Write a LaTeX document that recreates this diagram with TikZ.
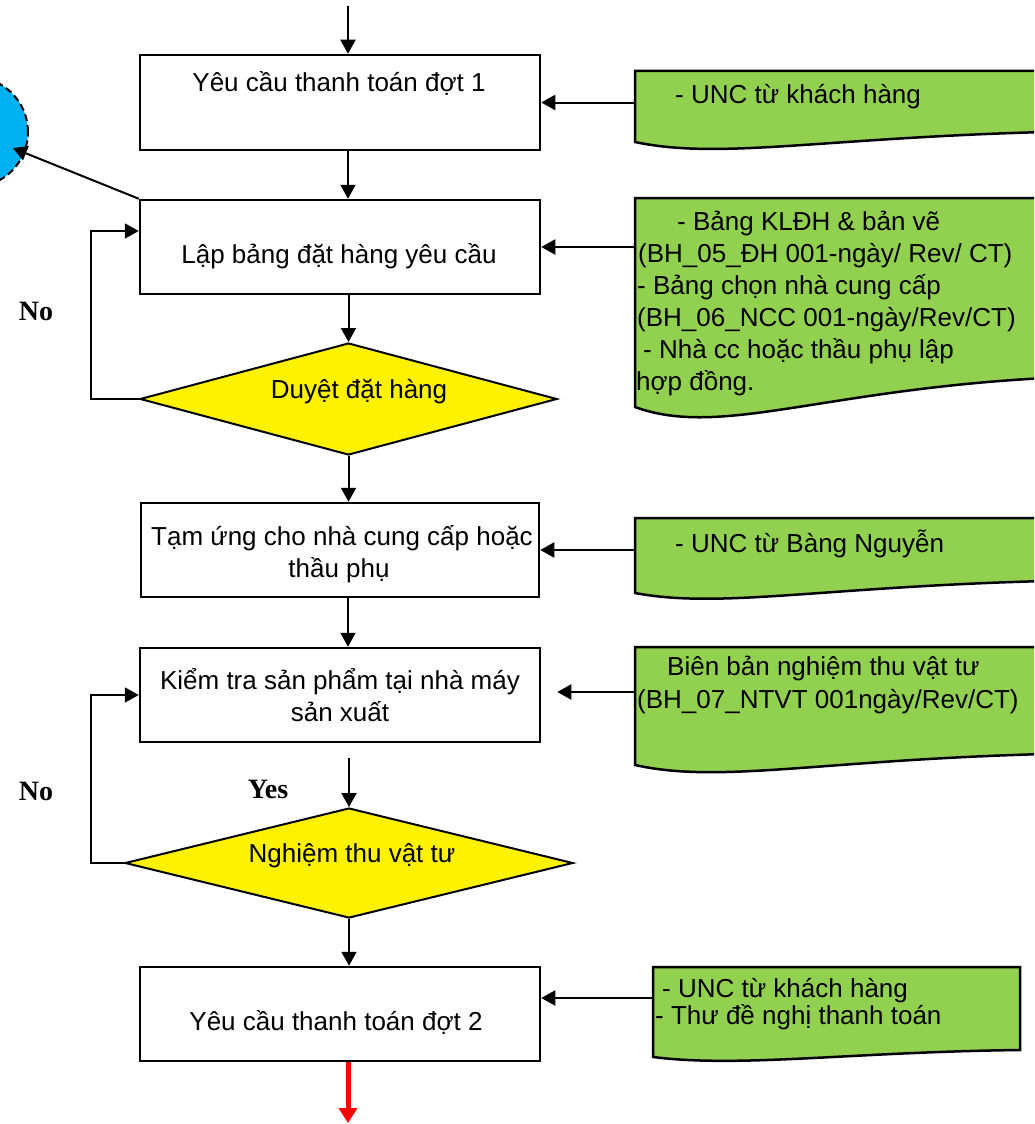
\documentclass[tikz,border=0pt]{standalone}
\usepackage{fontspec}
\setmainfont{Liberation Sans}
\newfontfamily\tnr{Liberation Serif}
\usetikzlibrary{arrows.meta,shapes.geometric}
\definecolor{docgreen}{RGB}{146,208,80}
\definecolor{circblue}{RGB}{0,176,240}
\begin{document}
\begin{tikzpicture}[x=1pt,y=1pt,
  every node/.style={font=\fontsize{26}{32}\selectfont},
  box/.style={draw, line width=2.5pt, minimum width=400pt, inner sep=0},
  dec/.style={diamond, draw, fill=yellow, line width=2pt, inner sep=0},
  arr/.style={line width=2pt, -{Triangle[length=14pt,width=15pt]}},
  redarr/.style={draw=red, line width=5pt, -{Triangle[length=15pt,width=18pt]}, red},
  doc/.style={draw, fill=docgreen, line width=2.5pt},
  docarea/.style={inner sep=0, anchor=north west},
  lbl/.style={inner sep=0, anchor=base},
  dtext/.style={inner sep=0, anchor=base west},
  yn/.style={inner sep=0, anchor=base, font=\tnr\bfseries\fontsize{28}{32}\selectfont}]
\useasboundingbox (0,0) rectangle (1034,-1124);
\clip (0,0) rectangle (1034,-1124);

% circle (off-page connector)
\node[circle, draw, fill=circblue, line width=2pt, dash pattern=on 7pt off 4pt, minimum size=110pt, inner sep=0] (c) at (-27,-132) {};

% document shapes
\filldraw[doc] (635,-71) -- (1045,-71) -- (1045,-132) .. controls (820,-138) and (720,-160) .. (635,-142) -- cycle;
\filldraw[doc] (635,-198) -- (1045,-198) -- (1045,-378) .. controls (820,-390) and (720,-438) .. (635,-407) -- cycle;
\filldraw[doc] (635,-518) -- (1045,-518) -- (1045,-581) .. controls (820,-587) and (720,-609) .. (635,-593) -- cycle;
\filldraw[doc] (635,-647) -- (1045,-647) -- (1045,-754) .. controls (820,-760) and (720,-784) .. (635,-765) -- cycle;
\filldraw[doc] (653,-967) -- (1020,-967) -- (1020,-1050) .. controls (850,-1052) and (740,-1068) .. (653,-1057) -- cycle;
\node[docarea, minimum width=410pt, minimum height=71pt] (d1) at (635,-71) {};
\node[docarea, minimum width=410pt, minimum height=209pt] (d2) at (635,-198) {};
\node[docarea, minimum width=410pt, minimum height=75pt] (d3) at (635,-518) {};
\node[docarea, minimum width=410pt, minimum height=118pt] (d4) at (635,-647) {};
\node[docarea, minimum width=367pt, minimum height=90pt] (d5) at (653,-967) {};

% document texts
\node[dtext] (d1a) at (675,-103) {- UNC từ khách hàng};
\node[dtext] (d2a) at (677,-230) {- Bảng KLĐH \& bản vẽ};
\node[dtext] (d2b) at (638,-262) {(BH\_05\_ĐH 001-ngày/ Rev/ CT)};
\node[dtext] (d2c) at (637,-294) {- Bảng chọn nhà cung cấp};
\node[dtext] (d2d) at (637,-326) {(BH\_06\_NCC 001-ngày/Rev/CT)};
\node[dtext] (d2e) at (643,-358) {- Nhà cc hoặc thầu phụ lập};
\node[dtext] (d2f) at (636,-390) {hợp đồng.};
\node[dtext] (d3a) at (675,-552) {- UNC từ Bàng Nguyễn};
\node[dtext] (d4a) at (667,-675) {Biên bản nghiệm thu vật tư};
\node[dtext] (d4b) at (637,-708) {(BH\_07\_NTVT 001ngày/Rev/CT)};
\node[dtext] (d5a) at (662,-997) {- UNC từ khách hàng};
\node[dtext] (d5b) at (655,-1024) {- Thư đề nghị thanh toán};

% process boxes
\node[box, minimum height=95pt] (b1) at (340,-102.5) {};
\node[box, minimum height=94pt] (b2) at (340,-247) {};
\node[box, minimum width=398pt, minimum height=94pt] (b3) at (340,-550) {};
\node[box, minimum height=94pt] (b4) at (340,-695) {};
\node[box, minimum height=94pt] (b5) at (340,-1014) {};
\node[dec, minimum width=417pt, minimum height=112pt] (dm1) at (348.5,-399) {};
\node[dec, minimum width=448pt, minimum height=110pt] (dm2) at (349,-863) {};

% box texts
\node[lbl] (t1) at (339,-91) {Yêu cầu thanh toán đợt 1};
\node[lbl] (t2) at (339,-263) {Lập bảng đặt hàng yêu cầu};
\node[lbl] (t3a) at (342,-545) {Tạm ứng cho nhà cung cấp hoặc};
\node[lbl] (t3b) at (339,-577) {thầu phụ};
\node[lbl] (t4a) at (340,-689) {Kiểm tra sản phẩm tại nhà máy};
\node[lbl] (t4b) at (340,-721) {sản xuất};
\node[lbl] (t5) at (336,-1030) {Yêu cầu thanh toán đợt 2};
\node[lbl] (td1) at (359,-398) {Duyệt đặt hàng};
\node[lbl] (td2) at (352,-862) {Nghiệm thu vật tư};

\node[yn] (no1) at (36,-320) {No};
\node[yn] (no2) at (36,-800) {No};
\node[yn] (yes) at (268,-798) {Yes};

% connectors
\coordinate (top) at (348,-6);
\coordinate (col) at (348,0);
\coordinate (bot) at (348,-1123);
\draw[arr] (top) -- (b1.north -| top);
\draw[arr] (b1.south -| col) -- (b2.north -| col);
\draw[arr] (b2.south -| dm1.north) -- (dm1.north);
\draw[arr] (dm1.south) -- (b3.north -| dm1.south);
\draw[arr] (b3.south -| col) -- (b4.north -| col);
\draw[arr, shorten <=15pt] (b4.south -| dm2.north) -- (dm2.north);
\draw[arr] (dm2.south) -- (b5.north -| dm2.south);
\draw[redarr] (b5.south -| col) -- (bot);

\draw[arr] (dm1.west) -- ++(-48,0) |- ([yshift=16pt]b2.west);
\draw[arr] (dm2.west) -- ++(-33,0) |- (b4.west);

\draw[arr, shorten >=43pt] (b2.north west) -- (c.center);

\draw[arr] (b1.east -| d1.west) -- (b1.east);
\draw[arr] (b2.east -| d2.west) -- (b2.east);
\draw[arr] (b3.east -| d3.west) -- (b3.east);
\draw[arr, shorten >=16pt] ([yshift=3pt]b4.east -| d4.west) -- ([yshift=3pt]b4.east);
\draw[arr] ([yshift=16pt]b5.east -| d5.west) -- ([yshift=16pt]b5.east);
\end{tikzpicture}
\end{document}
